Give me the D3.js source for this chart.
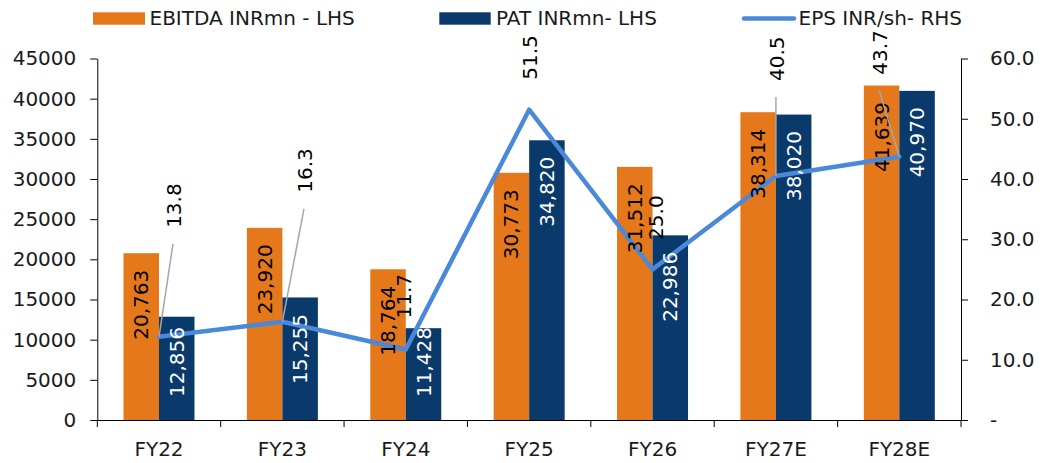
<!DOCTYPE html>
<html>
<head>
<meta charset="utf-8">
<script src="https://cdn.jsdelivr.net/npm/d3@7"></script>
<style>
  html, body { margin: 0; padding: 0; background: #fff; }
  svg { display: block; font-family: "DejaVu Sans", sans-serif; }
</style>
</head>
<body>
<svg id="chart" width="1049" height="463"></svg>
<script>
// ---- data ----
const categories = ["FY22", "FY23", "FY24", "FY25", "FY26", "FY27E", "FY28E"];
const ebitda = [20763, 23920, 18764, 30773, 31512, 38314, 41639];
const pat = [12856, 15255, 11428, 34820, 22986, 38020, 40970];
const eps = [13.8, 16.3, 11.7, 51.5, 25.0, 40.5, 43.7];
const leftTicks = [0, 5000, 10000, 15000, 20000, 25000, 30000, 35000, 40000, 45000];
const rightTicks = [0, 10, 20, 30, 40, 50, 60];
const seriesNames = ["EBITDA INRmn - LHS", "PAT INRmn- LHS", "EPS INR/sh- RHS"];

// ---- layout (EPS label offsets from their points, as placed in the source) ----
const epsLabelOffsets = [[15, -109], [22.6, -129], [-2, -31], [1, -30], [3.5, -29.5], [1, -95], [-19, -82]];

const COLORS = { ebitda: "#E5781A", pat: "#0A3A6B", eps: "#4A89D9", leader: "#A6A6A6", text: "#1a1a1a" };
const FS = 20;

const svg = d3.select("#chart");
const plotL = 97.3, plotR = 961, plotT = 58.5, plotB = 420;

const x = d3.scaleBand().domain(categories).range([plotL, plotR]).paddingInner(0).paddingOuter(0);
const xs = d3.scaleBand().domain(["ebitda", "pat"]).range([0, x.bandwidth()]).paddingInner(0).paddingOuter(0.738);
const yL = d3.scaleLinear().domain([0, 45000]).range([plotB, plotT]);
const yR = d3.scaleLinear().domain([0, 60]).range([plotB, plotT]);

// ---- bars ----
const barData = [];
categories.forEach((c, i) => {
  barData.push({ c, key: "ebitda", v: ebitda[i] });
  barData.push({ c, key: "pat", v: pat[i] });
});
svg.append("g").selectAll("rect").data(barData).join("rect")
  .attr("x", d => x(d.c) + xs(d.key))
  .attr("y", d => yL(d.v))
  .attr("width", xs.bandwidth())
  .attr("height", d => plotB - yL(d.v))
  .attr("fill", d => COLORS[d.key]);

// ---- axes ----
const axisStyle = g => {
  g.selectAll("path, line").attr("stroke", "#000").attr("stroke-width", 1);
  g.selectAll("text").attr("fill", COLORS.text).style("font-size", FS + "px").style("font-family", "DejaVu Sans, sans-serif");
};

svg.append("g").attr("transform", `translate(${plotL},0)`)
  .call(d3.axisLeft(yL).tickValues(leftTicks).tickSize(7).tickSizeOuter(0).tickPadding(14).tickFormat(d3.format("d")))
  .call(axisStyle);

svg.append("g").attr("transform", `translate(${plotR},0)`)
  .call(d3.axisRight(yR).tickValues(rightTicks).tickSize(7).tickSizeOuter(0).tickPadding(22)
    .tickFormat(d => d === 0 ? "-" : d.toFixed(1)))
  .call(axisStyle);

const xAxis = svg.append("g").attr("transform", `translate(0,${plotB})`)
  .call(d3.axisBottom(x).tickSize(0).tickSizeOuter(0).tickPadding(21.8))
  .call(axisStyle);
// category boundary ticks
const bounds = d3.range(categories.length + 1).map(i => plotL + i * x.step());
xAxis.selectAll("line.bound").data(bounds).join("line").attr("class", "bound")
  .attr("x1", d => d).attr("x2", d => d).attr("y1", 0).attr("y2", 7)
  .attr("stroke", "#000").attr("stroke-width", 1);

// ---- EPS line ----
const cx = c => x(c) + x.bandwidth() / 2;
const epsPts = categories.map((c, i) => ({ c, v: eps[i], i }));
svg.append("path").datum(epsPts)
  .attr("d", d3.line().x(d => cx(d.c)).y(d => yR(d.v)))
  .attr("fill", "none").attr("stroke", COLORS.eps).attr("stroke-width", 4.5)
  .attr("stroke-linejoin", "round").attr("stroke-linecap", "round");

// ---- bar labels ----
const fmt = d3.format(",");
const barLabels = svg.append("g").selectAll("text").data(barData).join("text")
  .text(d => fmt(d.v))
  .attr("fill", d => d.key === "pat" ? "#fff" : "#000")
  .attr("text-anchor", "end")
  .attr("dy", "0.35em")
  .style("font-size", FS + "px");
barLabels.each(function (d) {
  const L = this.getComputedTextLength();
  const topY = Math.min(yL(d.v) + 16.5, plotB - 23 - L);
  const bx = x(d.c) + xs(d.key) + xs.bandwidth() / 2;
  d3.select(this).attr("transform", `translate(${bx},${topY}) rotate(-90)`);
});

// ---- EPS labels + leaders ----
const epsG = svg.append("g");
epsPts.forEach(d => {
  const px = cx(d.c), py = yR(d.v);
  const [dx, dy] = epsLabelOffsets[d.i];
  const lx = px + dx, ly = py + dy;
  if (dy < -60) {
    epsG.append("line")
      .attr("x1", lx - 1).attr("y1", ly + 16)
      .attr("x2", px).attr("y2", py)
      .attr("stroke", COLORS.leader).attr("stroke-width", 1.5);
  }
  epsG.append("text").text(d.v.toFixed(1))
    .attr("transform", `translate(${lx},${ly}) rotate(-90)`)
    .attr("text-anchor", "start").attr("dy", "0.35em")
    .attr("fill", "#000").style("font-size", FS + "px");
});

// ---- legend ----
const lg = svg.append("g").style("font-size", FS + "px").attr("fill", COLORS.text);
lg.append("rect").attr("x", 93).attr("y", 12.3).attr("width", 52).attr("height", 12.4).attr("fill", COLORS.ebitda);
lg.append("text").attr("x", 149.5).attr("y", 25).text(seriesNames[0]);
lg.append("rect").attr("x", 439.3).attr("y", 12.3).attr("width", 51.4).attr("height", 12.4).attr("fill", COLORS.pat);
lg.append("text").attr("x", 496).attr("y", 25).text(seriesNames[1]);
lg.append("line").attr("x1", 744).attr("x2", 794).attr("y1", 18.5).attr("y2", 18.5)
  .attr("stroke", COLORS.eps).attr("stroke-width", 4.5).attr("stroke-linecap", "round");
lg.append("text").attr("x", 798.5).attr("y", 25).text(seriesNames[2]);
</script>
</body>
</html>
